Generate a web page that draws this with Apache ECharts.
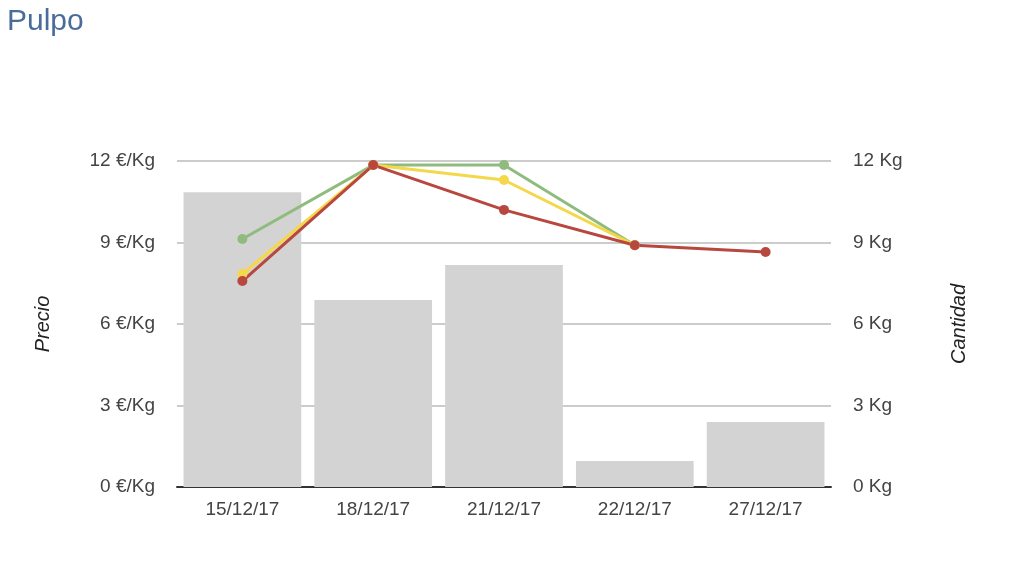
<!DOCTYPE html>
<html><head><meta charset="utf-8">
<script src="https://cdn.jsdelivr.net/npm/echarts@6/dist/echarts.min.js"></script>
<style>html,body{margin:0;padding:0;background:#fff}#c{width:1024px;height:576px}</style>
</head><body><div id="c"></div>
<script>
const categories = ['15/12/17','18/12/17','21/12/17','22/12/17','27/12/17'];
const cantidad = [10.85, 6.88, 8.17, 0.96, 2.39];
const precioVerde = [9.13, 11.85, 11.85, 8.9, null];
const precioAmarillo = [7.84, 11.85, 11.3, 8.9, null];
const precioRojo = [7.58, 11.85, 10.2, 8.9, 8.65];
const ticks = [0, 3, 6, 9, 12];

const chart = echarts.init(document.getElementById('c'));
const ff = 'Liberation Sans, Arial, sans-serif';
const labelFont = {color:'#444', fontSize:19, fontFamily:ff};
chart.setOption({
  animation:false,
  title:{text:'Pulpo', left:2, top:2, textStyle:{color:'#4a6c9b', fontSize:30, fontWeight:'normal', fontFamily:ff}},
  grid:{left:177, right:193, top:161, bottom:89},
  xAxis:{type:'category', data:categories,
    axisLine:{lineStyle:{color:'#333', width:2}}, axisTick:{show:false},
    axisLabel:Object.assign({margin:13}, labelFont)},
  yAxis:[
    {type:'value', min:0, max:12, interval:3, name:'Precio', nameLocation:'middle', nameRotate:90, nameGap:124,
     nameTextStyle:{fontStyle:'italic', color:'#222', fontSize:20, fontFamily:ff},
     axisLine:{show:false}, axisTick:{show:false},
     axisLabel:Object.assign({margin:22, formatter:v=>v+' €/Kg'}, labelFont),
     splitLine:{lineStyle:{color:'#ccc', width:2}}},
    {type:'value', min:0, max:12, interval:3, name:'Cantidad', nameLocation:'middle', nameRotate:90, nameGap:118,
     nameTextStyle:{fontStyle:'italic', color:'#222', fontSize:20, fontFamily:ff},
     axisLine:{show:false}, axisTick:{show:false},
     axisLabel:Object.assign({margin:22, formatter:v=>v+' Kg'}, labelFont),
     splitLine:{show:false}}
  ],
  series:[
    {type:'bar', yAxisIndex:1, data:cantidad, barCategoryGap:'10%', itemStyle:{color:'#d3d3d3'}},
    {type:'line', data:precioVerde, color:'#8fbc7e', lineStyle:{width:3}, symbol:'circle', symbolSize:10, itemStyle:{color:'#8fbc7e'}},
    {type:'line', data:precioAmarillo, color:'#f4d84a', lineStyle:{width:3}, symbol:'circle', symbolSize:10, itemStyle:{color:'#f4d84a'}},
    {type:'line', data:precioRojo, color:'#b8473f', lineStyle:{width:3}, symbol:'circle', symbolSize:10, itemStyle:{color:'#b8473f'}}
  ]
});
</script></body></html>
